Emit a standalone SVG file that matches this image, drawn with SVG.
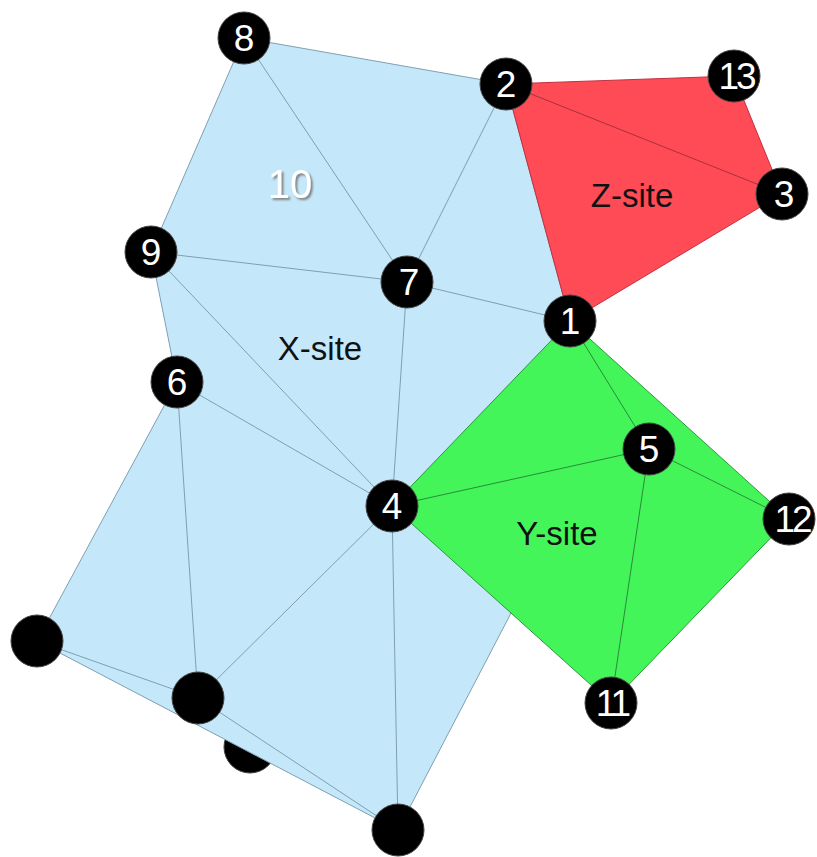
<svg xmlns="http://www.w3.org/2000/svg" width="817" height="857" viewBox="0 0 817 857">
<defs>
<filter id="shadow" x="-20%" y="-20%" width="150%" height="150%">
<feDropShadow dx="2" dy="2" stdDeviation="1" flood-color="#777" flood-opacity="0.9"/>
</filter>
<style>
.node circle{fill:#000;stroke:#444;stroke-width:1}
.node text{fill:#fff;font-family:"Liberation Sans",Arial,sans-serif;font-size:37px;text-anchor:middle}
.node text.two{letter-spacing:-3px}
.lb{stroke:#7f9fb0;stroke-width:1;fill:none}
.lg{stroke:#2a8a3a;stroke-width:1;fill:none}
.lr{stroke:#a8303c;stroke-width:1;fill:none}
.site{font-family:"Liberation Sans",Arial,sans-serif;font-size:33px;fill:#111;text-anchor:middle}
</style>
</defs>
<rect width="817" height="857" fill="#fff"/>
<g id="node-hidden" class="node"><circle cx="250" cy="747" r="26"/></g>
<g id="regions">
<polygon id="x-region" points="244,38 506,84 570,321 560,450 510,615 398,830 37,641 177,382 151,252" fill="#c4e8fa" stroke="#7f9fb0" stroke-width="1"/>
<polygon id="z-region" points="506,84 734,76 782,194 570,321" fill="#ff4b55" stroke="#c03040" stroke-width="1"/>
<polygon id="y-region" points="570,321 789,519 611,703 392,506" fill="#44f55a" stroke="#2a9a3a" stroke-width="1"/>
</g>
<g id="connectors">
<line class="lb" x1="244" y1="38" x2="407" y2="282"/>
<line class="lb" x1="506" y1="84" x2="407" y2="282"/>
<line class="lb" x1="151" y1="252" x2="407" y2="282"/>
<line class="lb" x1="407" y1="282" x2="570" y2="321"/>
<line class="lb" x1="407" y1="282" x2="392" y2="506"/>
<line class="lb" x1="151" y1="252" x2="392" y2="506"/>
<line class="lb" x1="177" y1="382" x2="392" y2="506"/>
<line class="lb" x1="177" y1="382" x2="198" y2="698"/>
<line class="lb" x1="392" y1="506" x2="198" y2="698"/>
<line class="lb" x1="392" y1="506" x2="398" y2="830"/>
<line class="lb" x1="37" y1="641" x2="198" y2="698"/>
<line class="lb" x1="198" y1="698" x2="398" y2="830"/>
<line class="lr" x1="506" y1="84" x2="782" y2="194"/>
<line class="lg" x1="570" y1="321" x2="649" y2="449"/>
<line class="lg" x1="392" y1="506" x2="649" y2="449"/>
<line class="lg" x1="649" y1="449" x2="789" y2="519"/>
<line class="lg" x1="649" y1="449" x2="611" y2="703"/>
</g>
<g id="labels">
<text x="290" y="198" font-family="'Liberation Sans',Arial,sans-serif" font-size="40" fill="#fff" text-anchor="middle" filter="url(#shadow)">10</text>
<text class="site" x="320" y="360">X-site</text>
<text class="site" x="632" y="207">Z-site</text>
<text class="site" x="557" y="545">Y-site</text>
</g>
<g id="node-1" class="node"><circle cx="570" cy="321" r="26"/><text x="570" y="334">1</text></g>
<g id="node-2" class="node"><circle cx="506" cy="84" r="26"/><text x="506" y="97">2</text></g>
<g id="node-3" class="node"><circle cx="782" cy="194" r="26"/><text x="784" y="207">3</text></g>
<g id="node-4" class="node"><circle cx="392" cy="506" r="26"/><text x="392" y="519">4</text></g>
<g id="node-5" class="node"><circle cx="649" cy="449" r="26"/><text x="649" y="462">5</text></g>
<g id="node-6" class="node"><circle cx="177" cy="382" r="26"/><text x="177" y="395">6</text></g>
<g id="node-7" class="node"><circle cx="407" cy="282" r="26"/><text x="409" y="295">7</text></g>
<g id="node-8" class="node"><circle cx="244" cy="38" r="26"/><text x="244" y="51">8</text></g>
<g id="node-9" class="node"><circle cx="151" cy="252" r="26"/><text x="151" y="265">9</text></g>
<g id="node-11" class="node"><circle cx="611" cy="703" r="26"/><text class="two" x="612" y="716">11</text></g>
<g id="node-12" class="node"><circle cx="789" cy="519" r="26"/><text class="two" x="792" y="532">12</text></g>
<g id="node-13" class="node"><circle cx="734" cy="76" r="26"/><text class="two" x="736" y="89">13</text></g>
<g id="node-a" class="node"><circle cx="37" cy="641" r="26"/></g>
<g id="node-b" class="node"><circle cx="198" cy="698" r="26"/></g>
<g id="node-c" class="node"><circle cx="398" cy="830" r="26"/></g>
</svg>
